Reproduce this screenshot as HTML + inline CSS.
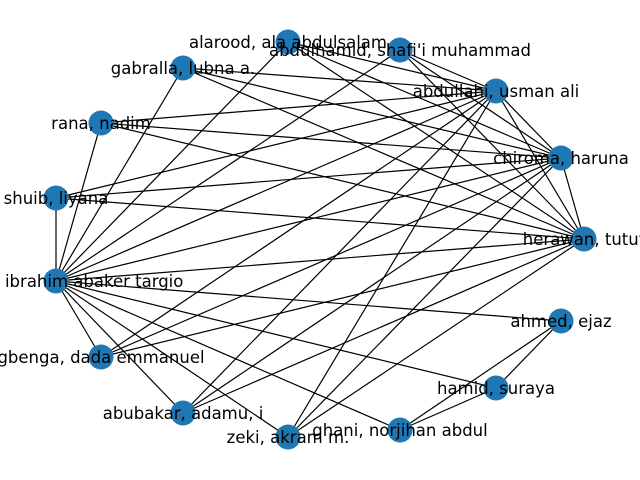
<!DOCTYPE html>
<html><head><meta charset="utf-8"><style>body{margin:0;background:#fff}svg{display:block}text{font-family:"DejaVu Sans","Liberation Sans",sans-serif;font-size:16.5px}</style></head>
<body>
<svg id="chart" width="640" height="480" viewBox="0 0 640 480"></svg>
<script>
const nodeNames = ["alarood, ala abdulsalam","abdulhamid, shafi'i muhammad","gabralla, lubna a.","abdullahi, usman ali","rana, nadim","chiroma, haruna","shuib, liyana","herawan, tutut","hashem, ibrahim abaker targio","ahmed, ejaz","gbenga, dada emmanuel","hamid, suraya","abubakar, adamu, i","zeki, akram m.","ghani, norjihan abdul"];
const nodeX = [288,400,183,496,101,561,56,584,56,561,101,496,183,288,400];
const nodeY = [42,50,68,91,123,158,198,239,281,321,357,388,413,437,430];
const edges = [
 [8,6],[8,4],[8,2],[8,0],[8,1],[8,3],[8,5],[8,7],[8,9],[8,10],[8,12],[8,13],[8,14],[8,11],
 [9,11],[9,14],[11,14],
 [7,10],[7,12],[7,13],[7,6],[7,4],[7,2],[7,0],[7,1],[7,3],[7,5],
 [5,6],[5,4],[5,2],[5,0],[5,1],[5,3],[5,10],[5,12],[5,13],
 [3,4],[3,2],[3,1],[3,0],[3,6],[3,10],[3,12],[3,13]
];
const svg = document.getElementById('chart');
const NS = 'http://www.w3.org/2000/svg';
edges.forEach(([a,b],i)=>{
  const l = document.createElementNS(NS,'line');
  l.setAttribute('x1',nodeX[a]);l.setAttribute('y1',nodeY[a]);
  l.setAttribute('x2',nodeX[b]);l.setAttribute('y2',nodeY[b]);
  l.setAttribute('stroke','#000');l.setAttribute('stroke-width','1.2');
  
  
  svg.appendChild(l);
});
nodeNames.forEach((n,i)=>{
  const c = document.createElementNS(NS,'circle');
  c.setAttribute('cx',nodeX[i]);c.setAttribute('cy',nodeY[i]);c.setAttribute('r','12.5');
  c.setAttribute('fill','#1f77b4');
  
  
  svg.appendChild(c);
});
nodeNames.forEach((n,i)=>{
  const t = document.createElementNS(NS,'text');
  t.setAttribute('x',nodeX[i]);t.setAttribute('y',nodeY[i]+6);
  t.setAttribute('text-anchor','middle');t.setAttribute('fill','#000');
  t.textContent = n;
  
  
  svg.appendChild(t);
});
</script>
</body></html>
